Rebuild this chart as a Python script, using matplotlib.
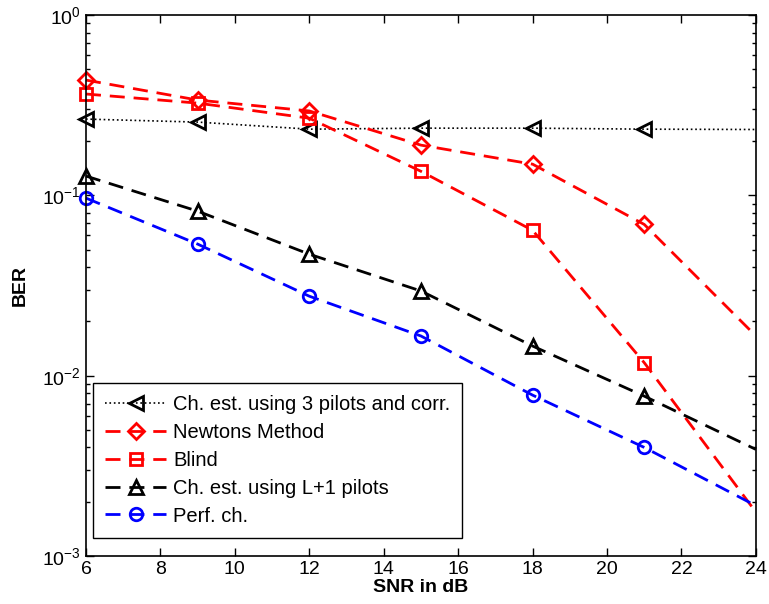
import matplotlib
matplotlib.use("Agg")
import matplotlib.pyplot as plt
from matplotlib.ticker import LogLocator, NullFormatter

plt.rcParams['font.family'] = ['Liberation Sans', 'DejaVu Sans']
plt.rcParams['mathtext.default'] = 'regular'

snr = [6, 9, 12, 15, 18, 21, 24]

ber_3pilots = [0.265, 0.255, 0.233, 0.236, 0.236, 0.233, 0.232]
ber_newton = [0.436, 0.338, 0.294, 0.19, 0.149, 0.069, 0.0166]
ber_blind = [0.365, 0.325, 0.268, 0.136, 0.064, 0.0118, 0.00175]
ber_lp1 = [0.128, 0.0818, 0.0472, 0.0295, 0.0146, 0.0077, 0.0039]
ber_perf = [0.0966, 0.0537, 0.0276, 0.0166, 0.0078, 0.0040, 0.0019]

labels = ["Ch. est. using 3 pilots and corr.", "Newtons Method", "Blind",
          "Ch. est. using L+1 pilots", "Perf. ch."]

fig = plt.figure(figsize=(7.69, 6.04), dpi=100)
ax = fig.add_axes([0.1118, 0.0795, 0.8712, 0.8955])

dash = (5.4, 3.2)
mk = dict(markersize=10, markeredgewidth=2, markerfacecolor='none',
          markevery=slice(0, 6), clip_on=False)

ax.plot(snr, ber_3pilots, ':', color='k', lw=1.2, marker='<', label=labels[0], **mk)
ax.plot(snr, ber_newton, '--', color='r', lw=2, dashes=dash, marker='D', label=labels[1],
        **{**mk, 'markersize': 8})
ax.plot(snr, ber_blind, '--', color='r', lw=2, dashes=dash, marker='s', label=labels[2],
        **{**mk, 'markersize': 8})
ax.plot(snr, ber_lp1, '--', color='k', lw=2, dashes=dash, marker='^', label=labels[3], **mk)
ax.plot(snr, ber_perf, '--', color='b', lw=2, dashes=dash, marker='o', label=labels[4],
        **{**mk, 'markersize': 9})

ax.set_yscale('log')
ax.set_xlim(6, 24)
ax.set_ylim(1e-3, 1)
ax.set_xticks(range(6, 25, 2))
ax.yaxis.set_major_locator(LogLocator(base=10, numticks=10))
ax.yaxis.set_minor_locator(LogLocator(base=10, subs=range(2, 10), numticks=10))
ax.yaxis.set_minor_formatter(NullFormatter())
ax.tick_params(which='both', direction='in', top=True, right=True, labelsize=14)
ax.tick_params(which='major', length=6, width=1)
ax.tick_params(which='minor', length=3, width=1)
for s in ax.spines.values():
    s.set_linewidth(1.2)

ax.set_xlabel("SNR in dB", fontsize=14, fontweight='bold', labelpad=1)
ax.set_ylabel("BER", fontsize=14, fontweight='bold', labelpad=10)

leg = ax.legend(loc='lower left', bbox_to_anchor=(0.011, 0.034), fontsize=14.5,
                fancybox=False, edgecolor='k', framealpha=1, handlelength=3.0,
                borderpad=0.6, labelspacing=0.44, handletextpad=0.35,
                borderaxespad=0)
leg.get_frame().set_linewidth(1)

fig.savefig("out.png", dpi=100)
